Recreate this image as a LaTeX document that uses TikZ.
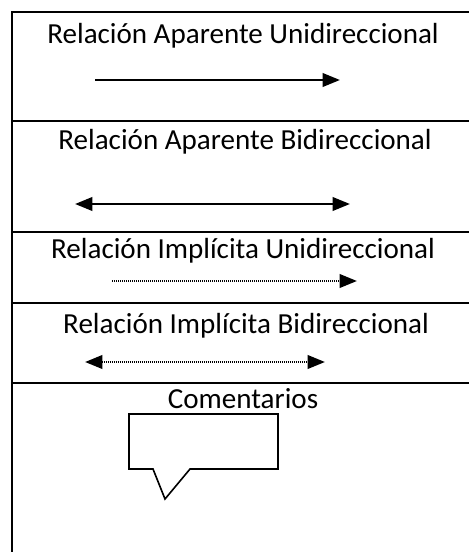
\documentclass[tikz,border=0pt]{standalone}
\usepackage{fontspec}
\setmainfont{Carlito}
\usetikzlibrary{arrows.meta}

\begin{document}
\begin{tikzpicture}[x=0.75pt,y=-0.75pt,>={Triangle[length=13pt,width=10pt]},line width=2pt,
    title/.style={font=\fontsize{21.8}{26}\selectfont,inner sep=0pt},
    implicit/.style={line width=2pt,dash pattern=on 1pt off 0.5pt}]
    \useasboundingbox (0,0) rectangle (468,552);

    % marco y filas
    \draw (12,570) -- (12,12) -- (480,12);
    \foreach \y in {121,232,303,383}
        \draw (12,\y) -- (480,\y);

    % titulos
    \node[title] (t1) at (243,36) {Relación Aparente Unidireccional};
    \node[title] (t2) at (245,142) {Relación Aparente Bidireccional};
    \node[title] (t3) at (243,251) {Relación Implícita Unidireccional};
    \node[title] (t4) at (246,326) {Relación Implícita Bidireccional};
    \node[title] (t5) at (243,399) {Comentarios};

    % extremos de las flechas
    \coordinate (a1) at (95,80);   \coordinate (b1) at (340,80);
    \coordinate (a2) at (75,204);  \coordinate (b2) at (350,204);
    \coordinate (a3) at (112,281); \coordinate (b3) at (357,281);
    \coordinate (a4) at (85,362);  \coordinate (b4) at (325,362);

    \draw[->] (a1) -- (b1);
    \draw[<->] (a2) -- (b2);
    \draw[->,implicit] (a3) -- (b3);
    \draw[<->,implicit] (a4) -- (b4);

    % globo de comentario
    \draw[line width=1.2pt,line join=miter]
        (129,414) -- (278,414) -- (278,469) -- (190,469)
        -- (165,499) -- (153,469) -- (129,469) -- cycle;
\end{tikzpicture}
\end{document}
